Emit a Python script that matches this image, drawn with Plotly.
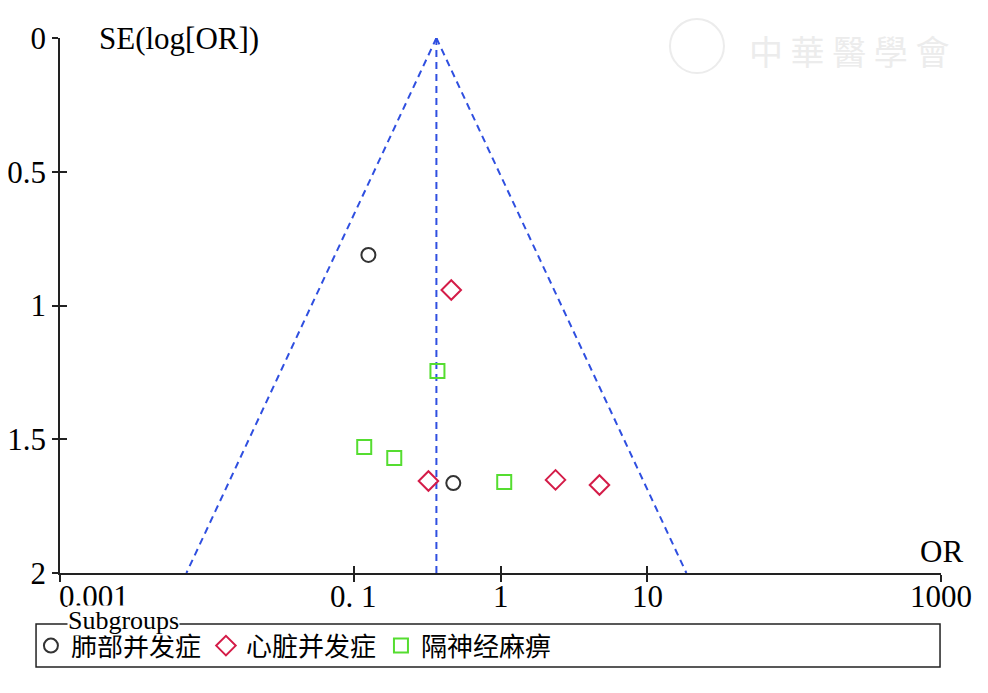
import numpy as np
import plotly.graph_objects as go

# ---------------- data ----------------
pooled_or = 0.366
se_max = 2.0

lung_or = [0.126, 0.477]
lung_se = [0.811, 1.664]

heart_or = [0.462, 0.323, 2.37, 4.72]
heart_se = [0.942, 1.656, 1.652, 1.671]

phrenic_or = [0.372, 0.118, 0.189, 1.06]
phrenic_se = [1.245, 1.529, 1.570, 1.660]

group_names = ["肺部并发症", "心脏并发症", "隔神经麻痹"]

x_tick_vals = [0.001, 0.1, 1, 10, 1000]
x_tick_labels = ["0.001", "0. 1", "1", "10", "1000"]
y_tick_vals = [0, 0.5, 1, 1.5, 2]
y_tick_labels = ["0", "0.5", "1", "1.5", "2"]

# ---------------- styles ----------------
LAT = "Liberation Serif, Times New Roman, serif"
CJK = "Liberation Serif, Noto Sans CJK SC, serif"
BLUE = "#2f4fe0"

fig = go.Figure()

# funnel lines from pooled estimate
se_line = np.array([0.0, se_max])
left = np.exp(np.log(pooled_or) - 1.96 * se_line)
right = np.exp(np.log(pooled_or) + 1.96 * se_line)
for xs, ys in [(left, se_line), (right, se_line), ([pooled_or, pooled_or], [0, se_max])]:
    fig.add_trace(go.Scatter(x=list(xs), y=list(ys), mode="lines",
                             line=dict(color=BLUE, width=2, dash="7px,5px"),
                             showlegend=False, hoverinfo="skip"))

fig.add_trace(go.Scatter(x=lung_or, y=lung_se, mode="markers", name=group_names[0],
                         marker=dict(symbol="circle-open", size=14, color="#333333",
                                     line=dict(width=2, color="#333333"))))
fig.add_trace(go.Scatter(x=heart_or, y=heart_se, mode="markers", name=group_names[1],
                         marker=dict(symbol="diamond-open", size=15, color="#d41c48",
                                     line=dict(width=2, color="#d41c48"))))
fig.add_trace(go.Scatter(x=phrenic_or, y=phrenic_se, mode="markers", name=group_names[2],
                         marker=dict(symbol="square-open", size=14, color="#55dd30",
                                     line=dict(width=2, color="#55dd30"))))

# invisible trace for the overlay axes (inner tick halves)
fig.add_trace(go.Scatter(x=[1], y=[1], xaxis="x2", yaxis="y2", mode="markers",
                         marker=dict(opacity=0), showlegend=False, hoverinfo="skip"))

xr = [np.log10(x_tick_vals[0]), np.log10(x_tick_vals[-1])]
axis_common = dict(showgrid=False, zeroline=False)

fig.update_layout(
    width=980, height=685,
    margin=dict(l=52, r=47, t=30, b=120, autoexpand=False),
    plot_bgcolor="white", paper_bgcolor="white",
    xaxis=dict(type="log", range=xr, tickvals=x_tick_vals, showticklabels=False,
               ticks="outside", ticklen=7, tickwidth=1.5, tickcolor="#222",
               showline=True, linecolor="#222", linewidth=1.5, **axis_common),
    yaxis=dict(range=[se_max, 0], tickvals=y_tick_vals, ticktext=y_tick_labels,
               ticks="outside", ticklen=6, tickwidth=1.5, tickcolor="#222",
               showline=True, linecolor="#222", linewidth=1.5,
               tickfont=dict(family=LAT, size=31, color="black"), **axis_common),
    xaxis2=dict(type="log", range=xr, overlaying="x", tickvals=x_tick_vals,
                showticklabels=False, ticks="inside", ticklen=7, tickwidth=1.5,
                tickcolor="#222", showline=False, **axis_common),
    yaxis2=dict(range=[se_max, 0], overlaying="y", tickvals=y_tick_vals,
                showticklabels=False, ticks="inside", ticklen=7, tickwidth=1.5,
                tickcolor="#222", showline=False, **axis_common),
    legend=dict(orientation="h", x=-0.033, y=-0.092, xanchor="left", yanchor="top",
                font=dict(family=CJK, size=26, color="black"),
                bgcolor="rgba(0,0,0,0)", borderwidth=0, itemwidth=30,
                tracegroupgap=0),
    showlegend=True,
)

annotations = []
for v, t in zip(x_tick_vals, x_tick_labels):
    first = v == x_tick_vals[0]
    annotations.append(dict(x=np.log10(v), y=-0.044, xref="x", yref="paper",
                            text=t, showarrow=False,
                            xanchor="left" if first else "center", yanchor="middle",
                            xshift=-3 if first else 0,
                            font=dict(family=LAT, size=31, color="black")))
annotations.append(dict(x=0.042, y=1.0, xref="paper", yref="paper", text="SE(log[OR])",
                        showarrow=False, xanchor="left", yanchor="middle",
                        font=dict(family=LAT, size=31, color="black")))
annotations.append(dict(x=0.974, y=0.04, xref="paper", yref="paper", text="OR",
                        showarrow=False, xanchor="left", yanchor="middle",
                        font=dict(family=LAT, size=31, color="black")))
annotations.append(dict(x=0.008, y=-0.088, xref="paper", yref="paper", text="Subgroups",
                        showarrow=False, xanchor="left", yanchor="middle",
                        bgcolor="white", borderpad=0,
                        font=dict(family=LAT, size=26, color="black")))
annotations.append(dict(x=0.78, y=0.976, xref="paper", yref="paper", text="中 華 醫 學 會",
                        showarrow=False, xanchor="left", yanchor="middle",
                        font=dict(family="Noto Sans CJK SC", size=34, color="#ececec")))
fig.update_layout(annotations=annotations)

fig.add_shape(type="rect", xref="paper", yref="paper",
              x0=-0.0272, x1=0.9989, y0=-0.1757, y1=-0.0953,
              line=dict(color="#222", width=1.5), layer="below")
fig.add_shape(type="circle", xref="paper", yref="paper", xsizemode="pixel", ysizemode="pixel",
              xanchor=0.723, yanchor=0.985, x0=-27, x1=27, y0=-27, y1=27,
              line=dict(color="#ececec", width=2), layer="below")

fig.write_html("out.html")
